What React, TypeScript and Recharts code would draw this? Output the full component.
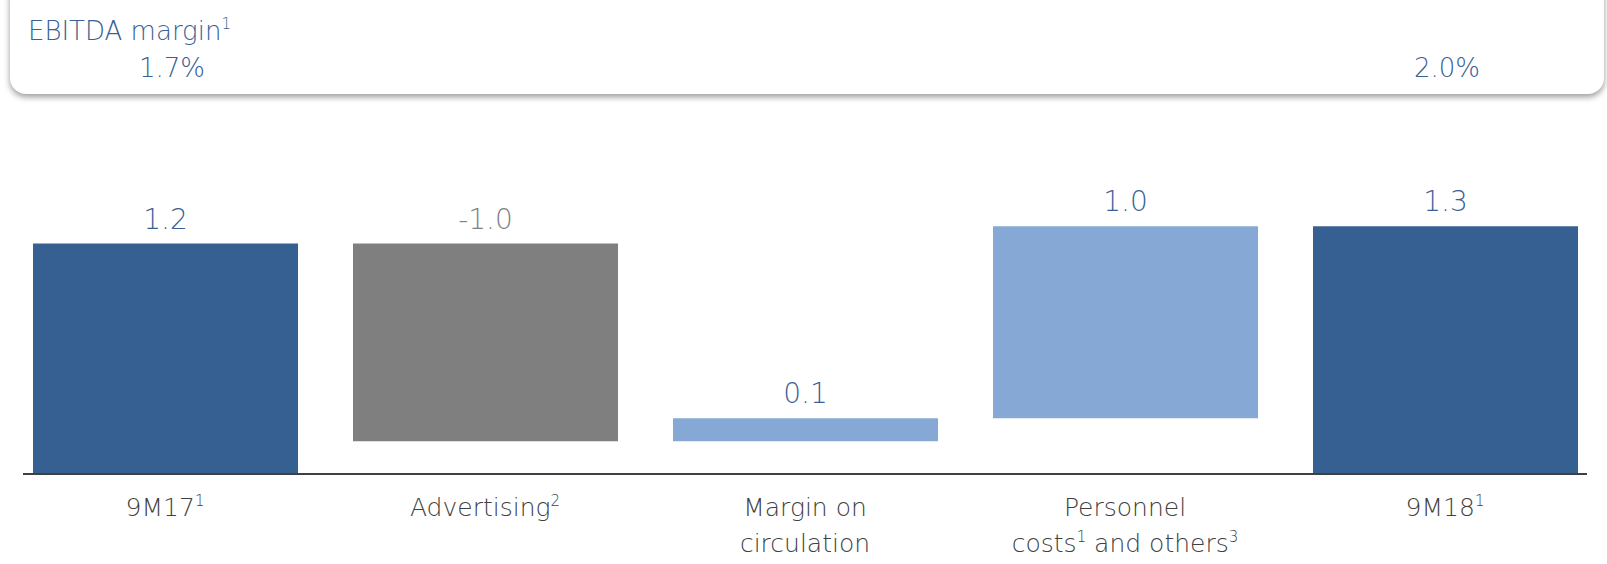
import React from 'react';
import { BarChart, Bar, XAxis, YAxis, Cell, LabelList, ReferenceLine } from 'recharts';

const categories = ['9M17', 'Advertising', 'Margin on circulation', 'Personnel costs and others', '9M18'];
// tick text, "^n" marks a footnote superscript, "\n" a line break
const tickLabels = ['9M17^1', 'Advertising^2', 'Margin on\ncirculation', 'Personnel\ncosts^1 and others^3', '9M18^1'];
const startValue = 1.2;
const changes = [-1.03, 0.12, 1.0];
const endValue = 1.29;
const barColors = ['#376092', '#7f7f7f', '#86a8d4', '#86a8d4', '#376092'];
const labelColors = ['#3a5f94', '#7f7f7f', '#3a5f94', '#3a5f94', '#3a5f94'];
const marginStart = '1.7%';
const marginEnd = '2.0%';

const FONT = "'DejaVu Sans', sans-serif";
const WEIGHT = 200;

// waterfall: invisible base + visible step
const buildData = () => {
  const rows: { name: string; base: number; size: number; value: number }[] = [];
  rows.push({ name: categories[0], base: 0, size: startValue, value: startValue });
  let running = startValue;
  changes.forEach((c, i) => {
    const next = running + c;
    rows.push({ name: categories[i + 1], base: Math.min(running, next), size: Math.abs(c), value: c });
    running = next;
  });
  rows.push({ name: categories[4], base: 0, size: endValue, value: endValue });
  return rows;
};
const data = buildData();

const renderLine = (line: string, x: number, y: number, key: number) => {
  const parts = line.split(/\^(\d)/);
  return (
    <text key={key} x={x} y={y} textAnchor="middle" fill="#404040" fontSize={25} fontFamily={FONT} fontWeight={WEIGHT}>
      {parts.map((p, i) =>
        i % 2 === 1 ? (
          <tspan key={i} fontSize={15} dy={-10}>{p}</tspan>
        ) : (
          <tspan key={i} dy={i > 0 ? 10 : 0}>{p}</tspan>
        )
      )}
    </text>
  );
};

const CategoryTick = (props: any) => {
  const { x, y, index } = props;
  const lines = tickLabels[index].split('\n');
  return <g>{lines.map((l, i) => renderLine(l, x, y + 42 + i * 36, i))}</g>;
};

const ValueLabel = (props: any) => {
  const { x, y, width, index } = props;
  return (
    <text
      x={x + width / 2}
      y={y - 15}
      textAnchor="middle"
      fill={labelColors[index]}
      fontSize={28}
      fontFamily={FONT}
      fontWeight={WEIGHT}
    >
      {data[index].value.toFixed(1)}
    </text>
  );
};

const App = () => {
  return (
    <div style={{ position: 'absolute', left: 0, top: 0, width: 1607, height: 564, background: '#fff', overflow: 'hidden', fontFamily: FONT, fontWeight: WEIGHT }}>
      <div
        style={{
          position: 'absolute',
          left: 10,
          top: -20,
          width: 1594,
          height: 114,
          borderRadius: 16,
          background: '#fff',
          boxShadow: '0 3px 6px rgba(0,0,0,0.4)',
        }}
      />
      <div style={{ position: 'absolute', left: 28, top: 14, fontSize: 26, color: '#3a5f94', lineHeight: '34px' }}>
        EBITDA margin<sup style={{ fontSize: 15, verticalAlign: 'top', lineHeight: '20px' }}>1</sup>
      </div>
      <div style={{ position: 'absolute', left: 72, width: 200, top: 51, textAlign: 'center', fontSize: 26, color: '#3a5f94', lineHeight: '34px' }}>
        {marginStart}
      </div>
      <div style={{ position: 'absolute', left: 1347, width: 200, top: 51, textAlign: 'center', fontSize: 26, color: '#3a5f94', lineHeight: '34px' }}>
        {marginEnd}
      </div>
      <div style={{ position: 'absolute', left: 0, top: 0 }}>
        <BarChart width={1607} height={564} data={data} margin={{ top: 90, right: 2, left: 5, bottom: 0 }} barSize={265}>
          <XAxis
            dataKey="name"
            axisLine={false}
            tickLine={false}
            tickSize={0}
            tickMargin={0}
            height={90}
            interval={0}
            tick={<CategoryTick />}
          />
          <YAxis hide domain={[0, 2]} />
          <Bar dataKey="base" stackId="w" fill="transparent" isAnimationActive={false} />
          <Bar dataKey="size" stackId="w" isAnimationActive={false}>
            {data.map((d, i) => (
              <Cell key={d.name} fill={barColors[i]} />
            ))}
            <LabelList dataKey="size" content={<ValueLabel />} />
          </Bar>
          <ReferenceLine
            y={0}
            stroke="#404040"
            strokeWidth={2}
            shape={(p: any) => <line x1={p.x1 + 18} y1={p.y1} x2={p.x2 - 18} y2={p.y2} stroke="#404040" strokeWidth={2} />}
          />
        </BarChart>
      </div>
    </div>
  );
};

export default App;
